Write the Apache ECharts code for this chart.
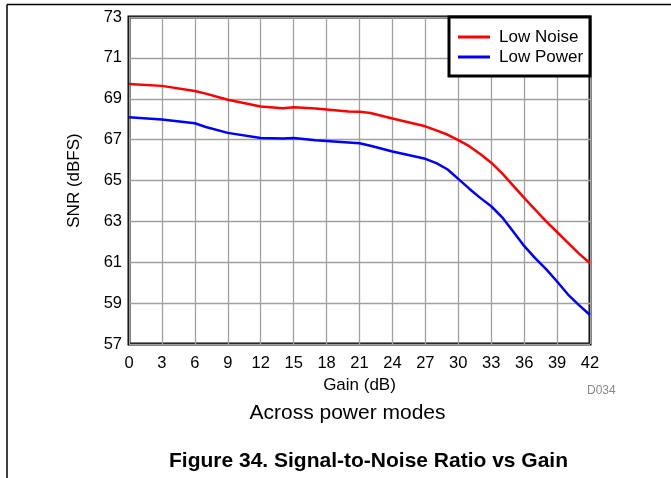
<html>
<head>
    <meta http-equiv="Content-Type" content="text/html; charset=utf-8" />
    <title>SNR vs Gain</title>
    <style type="text/css">
        * {
            margin: 0;
            padding: 0
        }

        html,
        body {
            width: 100%;
            height: 100%;
            background: #fff;
        }

        #chart {
            width: 671px;
            height: 478px;
        }
    </style>
    <script src="https://cdn.jsdelivr.net/npm/echarts@6/dist/echarts.min.js"></script>
</head>

<body>
    <div id="chart"></div>
    <script>
        // gain steps (dB) where the curves were read
        const gain = [0, 3, 6, 7, 9, 12, 14, 15, 17, 20, 21, 22, 24, 27, 28, 29, 30, 31, 32, 33, 34, 35, 36, 37, 38, 39, 40, 41, 42];
        const lowNoise = [69.72, 69.63, 69.38, 69.25, 68.95, 68.62, 68.53, 68.58, 68.52, 68.38, 68.37, 68.3, 68.03, 67.65, 67.45, 67.25, 66.98, 66.68, 66.3, 65.87, 65.35, 64.75, 64.15, 63.58, 63.0, 62.48, 61.95, 61.42, 60.95];
        const lowPower = [68.09, 67.99, 67.8, 67.62, 67.33, 67.08, 67.06, 67.08, 66.97, 66.86, 66.82, 66.7, 66.42, 66.06, 65.85, 65.55, 65.08, 64.6, 64.15, 63.74, 63.2, 62.5, 61.8, 61.2, 60.66, 60.06, 59.42, 58.9, 58.42];
        const seriesNames = ['Low Noise', 'Low Power'];
        const seriesColors = ['#ff0000', '#0000ff'];

        const font = 'Liberation Sans, Arial, sans-serif';
        const pairs = (ys) => gain.map((g, i) => [g, ys[i]]);

        const chart = echarts.init(document.getElementById('chart'), null, { renderer: 'canvas' });
        chart.setOption({
            animation: false,
            backgroundColor: '#fff',
            grid: {
                left: 129, right: 81, top: 17, bottom: 134,
                show: true, borderColor: '#000', borderWidth: 3
            },
            xAxis: {
                type: 'value', min: 0, max: 42, interval: 3,
                name: 'Gain (dB)', nameLocation: 'middle', nameGap: 30,
                nameTextStyle: { color: '#000', fontSize: 17, fontFamily: font },
                axisLine: { show: false },
                axisTick: { show: false },
                axisLabel: { color: '#000', fontSize: 16.5, fontFamily: font, margin: 11 },
                splitLine: { show: true, lineStyle: { color: '#a0a0a0', width: 1.3 } }
            },
            yAxis: {
                type: 'value', min: 57, max: 73, interval: 2,
                name: 'SNR (dBFS)', nameLocation: 'middle', nameGap: 46,
                nameTextStyle: { color: '#000', fontSize: 17, fontFamily: font },
                axisLine: { show: false },
                axisTick: { show: false },
                axisLabel: { color: '#000', fontSize: 16.5, fontFamily: font, margin: 7 },
                splitLine: { show: true, lineStyle: { color: '#a0a0a0', width: 1.3 } }
            },
            legend: {
                orient: 'vertical', left: 458, top: 28.5, padding: 0,
                itemWidth: 32, itemHeight: 3, itemGap: 3, icon: 'rect',
                textStyle: { color: '#000', fontSize: 17, fontFamily: font, lineHeight: 17, padding: [0, 0, 0, 4] },
                data: seriesNames
            },
            series: [
                {
                    name: seriesNames[0], type: 'line', data: pairs(lowNoise),
                    showSymbol: false, color: seriesColors[0], lineStyle: { width: 2.5 }, z: 3
                },
                {
                    name: seriesNames[1], type: 'line', data: pairs(lowPower),
                    showSymbol: false, color: seriesColors[1], lineStyle: { width: 2.5 }, z: 3
                }
            ],
            graphic: [
                // page frame (top and left rule)
                { type: 'line', shape: { x1: 7, y1: 4.5, x2: 671, y2: 4.5 }, style: { stroke: '#000', lineWidth: 1.5 } },
                { type: 'line', shape: { x1: 7, y1: 4.5, x2: 7, y2: 478 }, style: { stroke: '#000', lineWidth: 1.5 } },
                // legend box
                { type: 'rect', shape: { x: 449, y: 17, width: 141, height: 59 }, style: { fill: '#fff', stroke: '#000', lineWidth: 3 }, z: 4 },
                { type: 'text', left: 587, top: 385, style: { text: 'D034', fill: '#888', font: '12px ' + font } },
                { type: 'text', style: { text: 'Across power modes', x: 347.5, y: 413, align: 'center', verticalAlign: 'middle', fill: '#000', font: '21px ' + font } },
                { type: 'text', style: { text: 'Figure 34. Signal-to-Noise Ratio vs Gain', x: 368.5, y: 461, align: 'center', verticalAlign: 'middle', fill: '#000', font: 'bold 21px ' + font } }
            ]
        });
    </script>
</body>

</html>
